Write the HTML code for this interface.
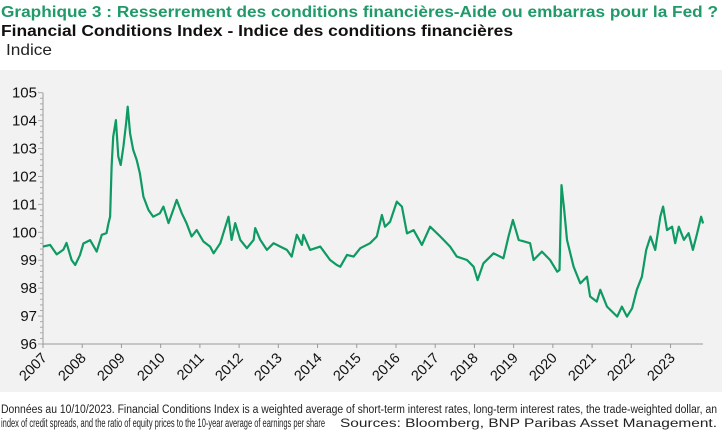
<!DOCTYPE html>
<html><head><meta charset="utf-8"><style>
html,body{margin:0;padding:0;background:#fff;}
#wrap{position:relative;width:725px;height:432px;overflow:hidden;}
svg{display:block;font-family:"Liberation Sans",sans-serif;position:absolute;left:0;top:0;}
.xl{position:absolute;font-family:"Liberation Sans",sans-serif;font-size:14.5px;color:#111;width:40px;text-align:right;line-height:16px;height:16px;transform-origin:100% 50%;transform:rotate(-45deg);white-space:nowrap;}
</style></head><body>
<div id="wrap">
<svg id="chart" width="725" height="432" viewBox="0 0 725 432" xmlns="http://www.w3.org/2000/svg">
<text x="1" y="17" font-size="16" font-weight="bold" fill="#1f9a68" textLength="717" lengthAdjust="spacingAndGlyphs">Graphique 3 : Resserrement des conditions financières-Aide ou embarras pour la Fed ?</text>
<text x="1" y="36" font-size="16" font-weight="bold" fill="#111" textLength="512" lengthAdjust="spacingAndGlyphs">Financial Conditions Index - Indice des conditions financières</text>
<text x="6" y="55" font-size="16" fill="#222" textLength="46" lengthAdjust="spacingAndGlyphs">Indice</text>
<rect x="0" y="70" width="722" height="322" fill="#f2f2f2"/>
<g id="axes"></g>
<g id="series"></g>
<text x="1" y="413" font-size="11.5" fill="#222" textLength="716" lengthAdjust="spacingAndGlyphs">Données au 10/10/2023. Financial Conditions Index is a weighted average of short-term interest rates, long-term interest rates, the trade-weighted dollar, an</text>
<text x="1" y="427" font-size="11.5" fill="#222" textLength="324" lengthAdjust="spacingAndGlyphs">index of credit spreads, and the ratio of equity prices to the 10-year average of earnings per share</text>
<text x="340" y="427" font-size="11.5" fill="#222" textLength="377" lengthAdjust="spacingAndGlyphs">Sources: Bloomberg, BNP Paribas Asset Management.</text>
</svg>
</div>
<script>
const yearTicks=[2007,2008,2009,2010,2011,2012,2013,2014,2015,2016,2017,2018,2019,2020,2021,2022,2023];
const valueTicks=[96,97,98,99,100,101,102,103,104,105];
const dates=[2007.00,2007.18,2007.35,2007.52,2007.60,2007.73,2007.82,2007.94,2008.03,2008.20,2008.37,2008.50,2008.62,2008.67,2008.71,2008.75,2008.79,2008.86,2008.92,2008.98,2009.05,2009.12,2009.16,2009.22,2009.30,2009.39,2009.47,2009.56,2009.69,2009.81,2009.98,2010.07,2010.20,2010.32,2010.41,2010.54,2010.66,2010.79,2010.92,2011.09,2011.26,2011.35,2011.52,2011.60,2011.73,2011.81,2011.90,2012.03,2012.20,2012.37,2012.41,2012.54,2012.71,2012.88,2013.05,2013.22,2013.34,2013.47,2013.60,2013.64,2013.81,2014.07,2014.32,2014.49,2014.58,2014.75,2014.92,2015.09,2015.34,2015.51,2015.64,2015.72,2015.85,2016.02,2016.15,2016.28,2016.45,2016.66,2016.87,2017.13,2017.38,2017.55,2017.81,2017.98,2018.08,2018.23,2018.49,2018.74,2018.87,2018.98,2019.13,2019.42,2019.51,2019.72,2019.93,2020.11,2020.17,2020.22,2020.29,2020.36,2020.53,2020.70,2020.87,2020.95,2021.12,2021.21,2021.38,2021.64,2021.76,2021.89,2022.02,2022.14,2022.27,2022.38,2022.49,2022.61,2022.74,2022.81,2022.91,2023.04,2023.12,2023.21,2023.34,2023.46,2023.57,2023.68,2023.78,2023.83];
const fciValues=[99.49,99.55,99.21,99.38,99.62,99.01,98.83,99.18,99.60,99.72,99.31,99.91,99.97,100.33,100.56,102.35,103.42,104.02,102.71,102.41,103.07,103.90,104.50,103.54,102.95,102.59,102.11,101.28,100.80,100.56,100.68,100.92,100.33,100.80,101.16,100.68,100.33,99.85,100.08,99.67,99.49,99.25,99.61,99.97,100.56,99.73,100.33,99.73,99.43,99.73,100.15,99.73,99.37,99.61,99.49,99.37,99.13,99.91,99.55,99.91,99.37,99.49,99.01,98.83,98.77,99.19,99.13,99.43,99.61,99.85,100.62,100.20,100.38,101.10,100.92,99.96,100.08,99.55,100.20,99.85,99.49,99.13,99.01,98.77,98.29,98.89,99.25,99.07,99.85,100.44,99.73,99.61,99.01,99.31,99.01,98.59,98.65,101.69,100.80,99.73,98.77,98.17,98.41,97.70,97.52,97.94,97.34,96.98,97.34,96.98,97.28,97.94,98.41,99.37,99.85,99.37,100.56,100.92,100.08,100.20,99.61,100.20,99.73,99.97,99.37,99.97,100.56,100.32];

const NS='http://www.w3.org/2000/svg';
const X0=43,XEND=703,YTOP=92.7,YBOT=344;
const xScale=y=>X0+(y-2007)*39.22;
const yScale=v=>YBOT-(v-96)*(YBOT-YTOP)/9;
const axes=document.getElementById('axes');
const series=document.getElementById('series');
const wrap=document.getElementById('wrap');
function mk(tag,attrs,parent){const e=document.createElementNS(NS,tag);for(const k in attrs)e.setAttribute(k,attrs[k]);parent.appendChild(e);return e;}

const yAxis=mk('line',{x1:X0,y1:YTOP,x2:X0,y2:YBOT,stroke:'#999','stroke-width':1},axes);


const xAxis=mk('line',{x1:X0,y1:YBOT,x2:XEND,y2:YBOT,stroke:'#999','stroke-width':1},axes);


for(let v=96;v<=105.001;v+=0.2){
  const major=Math.abs(v-Math.round(v))<0.01;
  const t=mk('line',{x1:X0-(major?5:3),y1:yScale(v),x2:X0,y2:yScale(v),stroke:'#aaa','stroke-width':1},axes);
  
  
}
valueTicks.forEach(v=>{
  const t=mk('text',{x:37,y:yScale(v)+5,'font-size':15,'text-anchor':'end',fill:'#111'},axes);
  t.textContent=v;
  
  
});
yearTicks.forEach(y=>{
  const x=xScale(y);
  const t=mk('line',{x1:x,y1:YBOT,x2:x,y2:YBOT+4,stroke:'#999','stroke-width':1},axes);
  
  
  const l=document.createElement('div');
  l.className='xl';
  l.textContent=y;
  l.style.left=(x+2-40)+'px';
  l.style.top=(YBOT+4)+'px';
  
  
  wrap.appendChild(l);
});
const d=dates.map((t,i)=>(i?'L':'M')+xScale(t).toFixed(1)+','+yScale(fciValues[i]).toFixed(1)).join(' ');
const line=mk('path',{d:d,fill:'none',stroke:'#0e9a62','stroke-width':2.2,'stroke-linejoin':'round'},series);


</script>
</body></html>
